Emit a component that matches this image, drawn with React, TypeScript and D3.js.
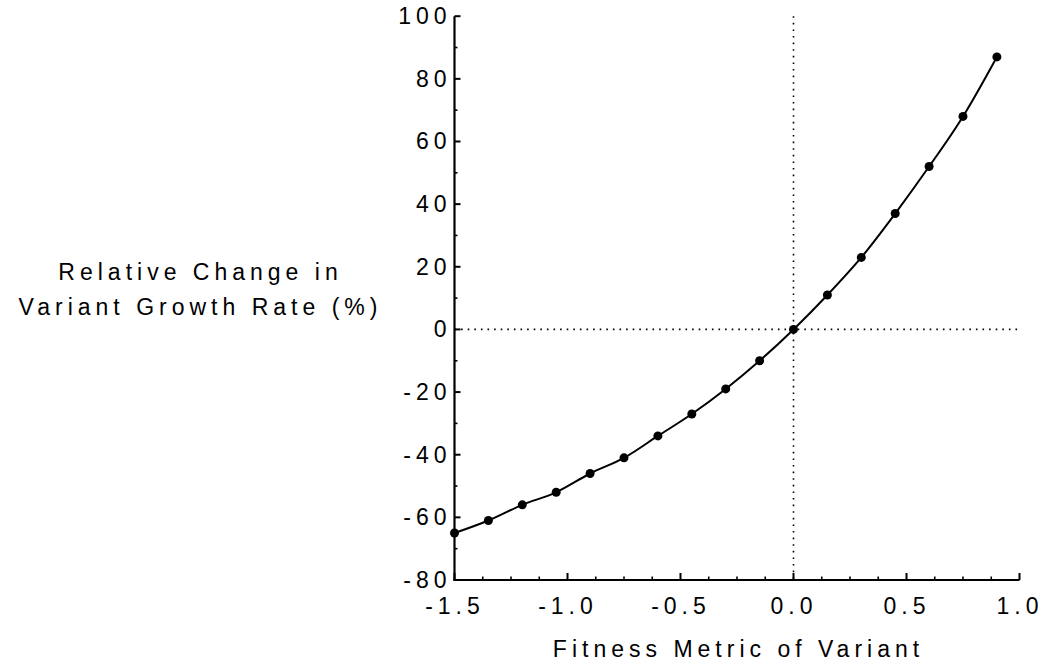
import React from "react";
import * as d3 from "d3";

const fitness: number[] = [-1.5, -1.35, -1.2, -1.05, -0.9, -0.75, -0.6, -0.45, -0.3, -0.15, 0, 0.15, 0.3, 0.45, 0.6, 0.75, 0.9];
const growthChange: number[] = [-65, -61, -56, -52, -46, -41, -34, -27, -19, -10, 0, 11, 23, 37, 52, 68, 87];
const yMajorTicks: number[] = [-80, -60, -40, -20, 0, 20, 40, 60, 80, 100];
const yMinorTicks: number[] = [-70, -50, -30, -10, 10, 30, 50, 70, 90];
const xMajorTicks: number[] = [-1.5, -1.0, -0.5, 0.0, 0.5, 1.0];
const xMinorTicks: number[] = [-1.375, -1.25, -1.125, -0.875, -0.75, -0.625, -0.375, -0.25, -0.125, 0.125, 0.25, 0.375, 0.625, 0.75, 0.875];
const yTitle: string[] = ["Relative Change in", "Variant Growth Rate (%)"];
const xTitle = "Fitness Metric of Variant";

const W = 1044;
const H = 666;
const FONT = "'Liberation Sans', Arial, Helvetica, sans-serif";
const FS = 23;
const LS = 5;
const TXT = { fill: "#000" };

export default function App() {
  const x = d3.scaleLinear().domain([-1.5, 1.0]).range([454.5, 1019.5]);
  const y = d3.scaleLinear().domain([-80, 100]).range([580, 16.2]);
  const pts: [number, number][] = fitness.map((f, i) => [f, growthChange[i]]);
  const line = d3
    .line<[number, number]>()
    .x((d) => x(d[0]))
    .y((d) => y(d[1]))
    .curve(d3.curveMonotoneX);
  const fmt = (v: number) => d3.format(".1f")(v).replace("\u2212", "-");
  const x0 = x.range()[0];
  const x1 = x.range()[1];
  const yb = y.range()[0];
  const yt = y.range()[1];

  return (
    <svg
      width={W}
      height={H}
      style={{ position: "absolute", left: 0, top: 0, background: "#fff" }}
      fontFamily={FONT}
    >
      <rect x={0} y={0} width={W} height={H} fill="#fff" />
      {/* reference dotted lines */}
      <line x1={x(0)} x2={x(0)} y1={yt} y2={yb} stroke="#000" strokeWidth={1.6} strokeDasharray="1.6 5" />
      <line x1={x0} x2={x1} y1={y(0)} y2={y(0)} stroke="#000" strokeWidth={1.6} strokeDasharray="1.6 5" />

      {/* curve */}
      <path d={line(pts) || ""} fill="none" stroke="#000" strokeWidth={2} />
      {pts.map((d, i) => (
        <circle key={i} cx={x(d[0])} cy={y(d[1])} r={4.5} fill="#000" />
      ))}

      {/* axes */}
      <line x1={x0} x2={x0} y1={yt} y2={yb + 1} stroke="#000" strokeWidth={2.2} />
      <line x1={x0 - 1} x2={x1} y1={yb} y2={yb} stroke="#000" strokeWidth={2.2} />
      {yMajorTicks.map((t) => (
        <line key={"ym" + t} x1={x0} x2={x0 + 6} y1={y(t)} y2={y(t)} stroke="#000" strokeWidth={2} />
      ))}
      {yMinorTicks.map((t) => (
        <line key={"yn" + t} x1={x0} x2={x0 + 3} y1={y(t)} y2={y(t)} stroke="#000" strokeWidth={1.6} />
      ))}
      {xMajorTicks.map((t) => (
        <line key={"xm" + t} x1={x(t)} x2={x(t)} y1={yb} y2={yb - 7} stroke="#000" strokeWidth={2} />
      ))}
      {xMinorTicks.map((t) => (
        <line key={"xn" + t} x1={x(t)} x2={x(t)} y1={yb} y2={yb - 3.5} stroke="#000" strokeWidth={1.6} />
      ))}

      {/* tick labels */}
      {yMajorTicks.map((t) => (
        <text
          key={"yl" + t}
          x={x0 - 8 + LS}
          y={y(t) + 8}
          textAnchor="end"
          fontSize={FS}
          letterSpacing={LS}
          {...TXT}
        >
          {String(t)}
        </text>
      ))}
      {xMajorTicks.map((t) => (
        <text
          key={"xl" + t}
          x={x(t) + LS / 2 - 2}
          y={614}
          textAnchor="middle"
          fontSize={FS}
          letterSpacing={LS}
          {...TXT}
        >
          {fmt(t)}
        </text>
      ))}

      {/* titles */}
      <text x={736 + LS / 2} y={657} textAnchor="middle" fontSize={FS} letterSpacing={LS} {...TXT}>
        {xTitle}
      </text>
      {yTitle.map((s, i) => (
        <text
          key={"yt" + i}
          x={198 + LS / 2}
          y={280 + i * 35}
          textAnchor="middle"
          fontSize={FS}
          letterSpacing={LS}
          {...TXT}
        >
          {s}
        </text>
      ))}
    </svg>
  );
}
